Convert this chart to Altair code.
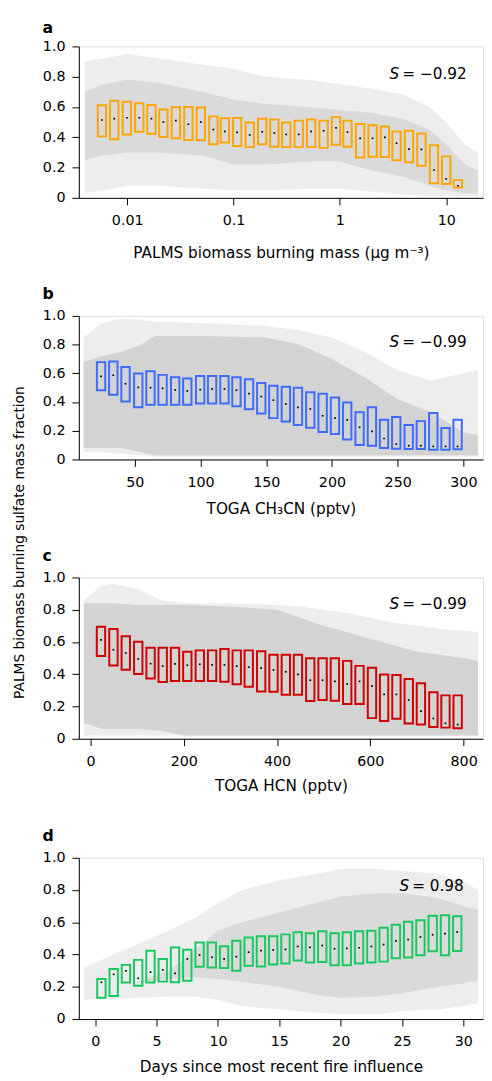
import altair as alt
import pandas as pd

FONT = "DejaVu Sans"
GRAY = "#d3d3d3"

# ---------------- panel a ----------------
a_x = [0.00579, 0.00755, 0.00993, 0.0130, 0.0169, 0.0219, 0.0287, 0.0376, 0.0492, 0.0646,
       0.0828, 0.108, 0.142, 0.186, 0.242, 0.313, 0.410, 0.537, 0.703, 0.920,
       1.18, 1.55, 2.03, 2.65, 3.41, 4.47, 5.85, 7.67, 10.0, 12.9]
a_q3 = [0.611, 0.641, 0.635, 0.624, 0.613, 0.583, 0.598, 0.600, 0.596, 0.538,
        0.525, 0.527, 0.497, 0.523, 0.518, 0.497, 0.510, 0.518, 0.510, 0.533,
        0.510, 0.488, 0.479, 0.471, 0.438, 0.443, 0.425, 0.348, 0.274, 0.117]
a_q1 = [0.406, 0.387, 0.419, 0.436, 0.423, 0.402, 0.393, 0.382, 0.380, 0.354,
        0.365, 0.343, 0.335, 0.354, 0.337, 0.335, 0.335, 0.335, 0.330, 0.350,
        0.337, 0.266, 0.272, 0.270, 0.248, 0.235, 0.212, 0.097, 0.091, 0.069]
a_med = [0.514, 0.523, 0.529, 0.529, 0.523, 0.501, 0.510, 0.486, 0.501, 0.451,
         0.438, 0.432, 0.415, 0.436, 0.428, 0.419, 0.419, 0.438, 0.443, 0.462,
         0.434, 0.393, 0.393, 0.400, 0.361, 0.322, 0.320, 0.184, 0.125, 0.080]
a_band_x = [0.004, 0.006, 0.01, 0.02, 0.05, 0.1, 0.2, 0.5, 1, 2, 4, 7, 10, 15, 19.9]
a_dense_lo = [0.25, 0.28, 0.30, 0.30, 0.28, 0.22, 0.22, 0.24, 0.24, 0.18, 0.14, 0.08, 0.05, 0.03, 0.03]
a_dense_hi = [0.70, 0.75, 0.78, 0.76, 0.70, 0.65, 0.62, 0.60, 0.58, 0.56, 0.52, 0.45, 0.35, 0.22, 0.18]
a_sparse_lo = [0.03, 0.05, 0.08, 0.08, 0.06, 0.05, 0.05, 0.06, 0.06, 0.04, 0.02, 0.01, 0.01, 0.01, 0.01]
a_sparse_hi = [0.90, 0.92, 0.95, 0.92, 0.88, 0.85, 0.80, 0.78, 0.75, 0.72, 0.68, 0.60, 0.50, 0.35, 0.30]

# ---------------- panel b ----------------
b_x = [24.3, 33.6, 42.9, 52.6, 61.9, 71.1, 80.7, 89.9, 99.7, 108.8,
       118.2, 127.3, 136.9, 146.2, 155.4, 164.9, 174.1, 183.5, 192.9, 202.3,
       211.6, 221.0, 230.4, 239.6, 248.9, 258.4, 267.6, 277.1, 286.4, 295.6]
b_q3 = [0.678, 0.683, 0.644, 0.598, 0.614, 0.589, 0.573, 0.564, 0.582, 0.582,
        0.582, 0.573, 0.559, 0.532, 0.514, 0.507, 0.500, 0.468, 0.457, 0.432,
        0.397, 0.329, 0.363, 0.276, 0.295, 0.240, 0.267, 0.324, 0.219, 0.276]
b_q1 = [0.482, 0.450, 0.404, 0.363, 0.381, 0.381, 0.381, 0.381, 0.390, 0.390,
        0.390, 0.370, 0.349, 0.320, 0.288, 0.265, 0.240, 0.221, 0.192, 0.178,
        0.139, 0.100, 0.096, 0.080, 0.075, 0.073, 0.073, 0.068, 0.068, 0.071]
b_med = [0.578, 0.587, 0.527, 0.502, 0.500, 0.495, 0.484, 0.477, 0.486, 0.491,
         0.491, 0.482, 0.459, 0.438, 0.413, 0.386, 0.363, 0.352, 0.304, 0.288,
         0.276, 0.224, 0.196, 0.146, 0.107, 0.096, 0.096, 0.091, 0.091, 0.091]
b_band_x = [11, 25, 40, 55, 65, 100, 150, 175, 200, 225, 250, 275, 300, 311]
b_dense_lo = [0.08, 0.08, 0.08, 0.05, 0.03, 0.03, 0.03, 0.03, 0.03, 0.03, 0.03, 0.03, 0.03, 0.03]
b_dense_hi = [0.68, 0.72, 0.75, 0.80, 0.86, 0.86, 0.85, 0.80, 0.70, 0.57, 0.42, 0.33, 0.19, 0.17]
b_sparse_lo = [0.05, 0.05, 0.04, 0.03, 0.02, 0.02, 0.02, 0.02, 0.02, 0.02, 0.02, 0.02, 0.02, 0.02]
b_sparse_hi = [0.85, 0.95, 0.98, 0.97, 0.96, 0.95, 0.93, 0.90, 0.85, 0.75, 0.62, 0.55, 0.60, 0.62]

# ---------------- panel c ----------------
c_x = [22.6, 49.3, 75.7, 102.5, 128.9, 154.9, 181.3, 207.7, 234.4, 260.8,
       287.2, 313.6, 339.3, 366.0, 392.4, 418.8, 444.8, 471.2, 497.6, 524.0,
       550.4, 576.8, 603.5, 629.5, 655.9, 682.3, 708.4, 735.1, 761.1, 787.2]
c_q3 = [0.695, 0.680, 0.635, 0.601, 0.564, 0.564, 0.564, 0.540, 0.548, 0.548,
        0.556, 0.548, 0.548, 0.542, 0.521, 0.521, 0.521, 0.499, 0.499, 0.499,
        0.483, 0.452, 0.440, 0.399, 0.395, 0.371, 0.344, 0.289, 0.269, 0.269]
c_q1 = [0.513, 0.454, 0.428, 0.401, 0.373, 0.352, 0.358, 0.358, 0.358, 0.358,
        0.354, 0.338, 0.322, 0.293, 0.291, 0.273, 0.273, 0.234, 0.240, 0.236,
        0.216, 0.216, 0.128, 0.110, 0.124, 0.094, 0.088, 0.073, 0.069, 0.065]
c_med = [0.613, 0.552, 0.532, 0.495, 0.466, 0.450, 0.464, 0.456, 0.462, 0.458,
         0.458, 0.450, 0.444, 0.438, 0.426, 0.415, 0.399, 0.363, 0.363, 0.356,
         0.340, 0.356, 0.326, 0.275, 0.275, 0.240, 0.171, 0.126, 0.096, 0.088]
c_band_x = [-14, 25, 50, 100, 150, 200, 300, 400, 450, 500, 550, 600, 650, 700, 750, 800, 831]
c_dense_lo = [0.10, 0.06, 0.06, 0.06, 0.05, 0.02, 0.02, 0.02, 0.02, 0.02, 0.02, 0.02, 0.02, 0.02, 0.02, 0.02, 0.02]
c_dense_hi = [0.84, 0.84, 0.84, 0.83, 0.83, 0.83, 0.82, 0.80, 0.75, 0.70, 0.66, 0.62, 0.58, 0.54, 0.52, 0.50, 0.48]
c_sparse_lo = [0.02, 0.02, 0.02, 0.02, 0.02, 0.02, 0.02, 0.02, 0.02, 0.02, 0.02, 0.02, 0.02, 0.02, 0.02, 0.02, 0.02]
c_sparse_hi = [0.86, 0.95, 0.96, 0.93, 0.86, 0.84, 0.84, 0.83, 0.82, 0.80, 0.78, 0.75, 0.72, 0.70, 0.68, 0.67, 0.66]

# ---------------- panel d ----------------
d_x = [0.5, 1.5, 2.5, 3.5, 4.5, 5.5, 6.5, 7.5, 8.5, 9.5,
       10.5, 11.5, 12.5, 13.5, 14.5, 15.5, 16.5, 17.5, 18.5, 19.5,
       20.5, 21.5, 22.5, 23.5, 24.5, 25.5, 26.5, 27.5, 28.5, 29.5]
d_q3 = [0.248, 0.310, 0.336, 0.367, 0.424, 0.373, 0.444, 0.430, 0.475, 0.475,
        0.452, 0.485, 0.505, 0.513, 0.513, 0.525, 0.538, 0.532, 0.544, 0.532,
        0.538, 0.544, 0.548, 0.566, 0.585, 0.603, 0.613, 0.640, 0.644, 0.637]
d_q1 = [0.132, 0.143, 0.226, 0.206, 0.226, 0.232, 0.228, 0.238, 0.324, 0.320,
        0.316, 0.299, 0.330, 0.326, 0.338, 0.344, 0.363, 0.350, 0.354, 0.334,
        0.334, 0.344, 0.350, 0.356, 0.377, 0.381, 0.395, 0.420, 0.395, 0.422]
d_med = [0.228, 0.277, 0.299, 0.253, 0.291, 0.305, 0.283, 0.373, 0.397, 0.383,
         0.373, 0.387, 0.415, 0.424, 0.428, 0.432, 0.450, 0.444, 0.456, 0.436,
         0.438, 0.442, 0.450, 0.462, 0.485, 0.493, 0.509, 0.523, 0.530, 0.540]
d_band_x = [-0.9, 3, 6, 8, 10, 12, 15, 18, 20, 23, 25, 28, 30, 31.2]
d_dense_lo = [0.20, 0.22, 0.25, 0.26, 0.25, 0.23, 0.20, 0.15, 0.13, 0.14, 0.16, 0.20, 0.22, 0.24]
d_dense_hi = [0.20, 0.22, 0.30, 0.42, 0.55, 0.60, 0.66, 0.72, 0.76, 0.78, 0.78, 0.75, 0.70, 0.68]
d_sparse_lo = [0.12, 0.13, 0.14, 0.14, 0.12, 0.08, 0.06, 0.04, 0.03, 0.03, 0.05, 0.06, 0.08, 0.10]
d_sparse_hi = [0.32, 0.45, 0.55, 0.62, 0.72, 0.80, 0.86, 0.90, 0.93, 0.93, 0.92, 0.90, 0.85, 0.80]

W = 411
Y_VALUES = [0, 0.2, 0.4, 0.6, 0.8, 1.0]


def panel(letter, letter_y, xs, q1, q3, med, bx, dlo, dhi, slo, shi, color, xscale,
          xvalues, xformat, xtitle, height, s_text, s_x, eq_x, s_y, title_pad, dense_color):
    box_df = pd.DataFrame({"x": xs, "q1": q1, "q3": q3, "med": med})
    band_df = pd.DataFrame({"x": bx, "dlo": dlo, "dhi": dhi, "slo": slo, "shi": shi})
    xaxis = alt.Axis(values=xvalues, format=xformat, title=xtitle, grid=False,
                     labelFont=FONT, labelFontSize=14.5, labelColor="black",
                     titleFont=FONT, titleFontSize=15.5, titleFontWeight="normal",
                     titleColor="black", titlePadding=title_pad,
                     tickSize=7, labelPadding=9, tickColor="black", domainColor="black",
                     labelFlush=False, labelOverlap=False)
    yaxis = alt.Axis(values=Y_VALUES, title=None, grid=False,
                     labelExpr="datum.value == 0 ? '0' : format(datum.value, '.1f')",
                     labelFont=FONT, labelFontSize=14.5, labelColor="black",
                     tickSize=7, labelPadding=7, tickColor="black", domainColor="black",
                     labelFlush=False, labelOverlap=False, labelBound=False)
    yscale = alt.Scale(domain=[0, 1], nice=False)
    sparse = alt.Chart(band_df).mark_area(color=GRAY, opacity=0.4, clip=True).encode(
        x=alt.X("x:Q", scale=xscale, axis=xaxis),
        y=alt.Y("slo:Q", scale=yscale, axis=yaxis),
        y2="shi:Q",
    )
    dense = alt.Chart(band_df).mark_area(color=dense_color, opacity=1, clip=True).encode(
        x=alt.X("x:Q", scale=xscale, axis=xaxis),
        y=alt.Y("dlo:Q", scale=yscale, axis=yaxis),
        y2="dhi:Q",
    )
    boxes = alt.Chart(box_df).mark_bar(orient="vertical", size=8.5, fillOpacity=0,
                                       stroke=color, strokeWidth=2).encode(
        x=alt.X("x:Q", scale=xscale, axis=xaxis),
        y=alt.Y("q1:Q", scale=yscale, axis=yaxis),
        y2="q3:Q",
    )
    meds = alt.Chart(box_df).mark_square(size=3, color="black", opacity=1).encode(
        x=alt.X("x:Q", scale=xscale, axis=xaxis),
        y=alt.Y("med:Q", scale=yscale, axis=yaxis),
    )
    lab = alt.Chart(pd.DataFrame({"t": [letter]})).mark_text(
        font=FONT, fontSize=16, fontWeight="bold", align="left", baseline="alphabetic",
        color="black"
    ).encode(x=alt.value(-37), y=alt.value(letter_y), text="t:N")
    s1 = alt.Chart(pd.DataFrame({"t": ["S"]})).mark_text(
        font=FONT, fontSize=15.5, fontStyle="italic", align="left", baseline="middle",
        color="black"
    ).encode(x=alt.value(s_x), y=alt.value(s_y), text="t:N")
    s2 = alt.Chart(pd.DataFrame({"t": [s_text]})).mark_text(
        font=FONT, fontSize=15.5, align="left", baseline="middle", color="black"
    ).encode(x=alt.value(eq_x), y=alt.value(s_y), text="t:N")
    return alt.layer(sparse, dense, boxes, meds, lab, s1, s2).properties(
        width=W, height=height
    )


pa = panel("a", -14, a_x, a_q1, a_q3, a_med, a_band_x, a_dense_lo, a_dense_hi,
           a_sparse_lo, a_sparse_hi, "#FFA500",
           alt.Scale(type="log", domain=[0.0039, 19.95], nice=False),
           [0.01, 0.1, 1, 10], "~g", "PALMS biomass burning mass (μg m⁻³)", 154,
           "= −0.92", 316, 329, 28.6, 19, "#dadada")
pb = panel("b", -17, b_x, b_q1, b_q3, b_med, b_band_x, b_dense_lo, b_dense_hi,
           b_sparse_lo, b_sparse_hi, "#3D6BFF",
           alt.Scale(domain=[11.1, 311.2], nice=False, zero=False),
           [50, 100, 150, 200, 250, 300], "d", "TOGA CH₃CN (pptv)", 146,
           "= −0.99", 316, 329, 26.3, 13, GRAY)
pc = panel("c", -17, c_x, c_q1, c_q3, c_med, c_band_x, c_dense_lo, c_dense_hi,
           c_sparse_lo, c_sparse_hi, "#D00000",
           alt.Scale(domain=[-14.4, 831], nice=False, zero=False),
           [0, 200, 400, 600, 800], "d", "TOGA HCN (pptv)", 164,
           "= −0.99", 316, 329, 27.3, 11, GRAY)
pd_ = panel("d", -17, d_x, d_q1, d_q3, d_med, d_band_x, d_dense_lo, d_dense_hi,
            d_sparse_lo, d_sparse_hi, "#19C860",
            alt.Scale(domain=[-0.94, 31.2], nice=False, zero=False),
            [0, 5, 10, 15, 20, 25, 30], "d", "Days since most recent fire influence", 164,
            "= 0.98", 326, 339, 28.3, 12, "#dadada")

top = alt.vconcat(pa, pb, spacing=24)
bottom = alt.vconcat(pc, pd_, spacing=33)
chart = alt.vconcat(top, bottom, spacing=30).properties(
    title=alt.TitleParams("PALMS biomass burning sulfate mass fraction", orient="left",
                          anchor="middle", font=FONT, fontSize=14, fontWeight="normal",
                          color="black", offset=15, dx=5),
    padding={"left": 5, "top": 2, "right": 0, "bottom": 0},
).configure_view(strokeWidth=0).configure(background="white").configure_axis(
    labelOverlap=False
).configure_axisY(labelOverlap=False)

chart.save("out.html", embed_options={"renderer": "svg", "actions": False})
